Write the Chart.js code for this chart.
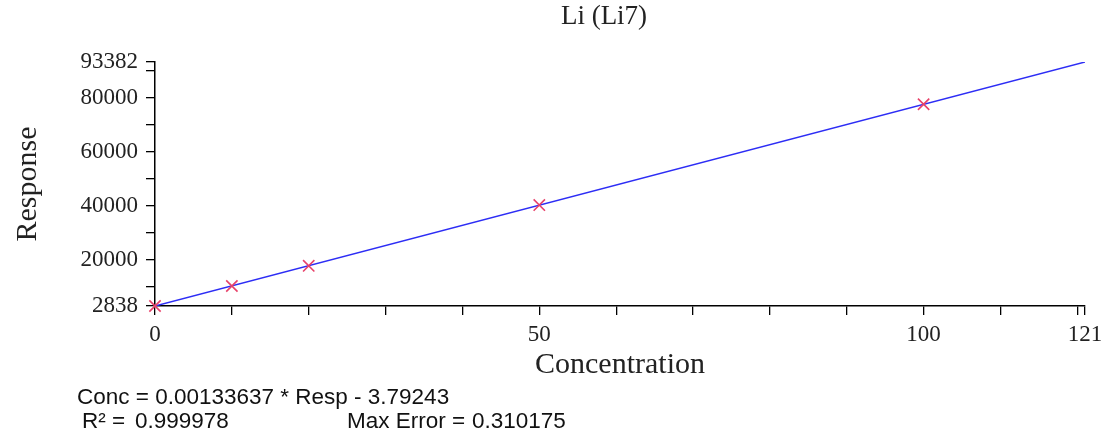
<!DOCTYPE html>
<html>
<head>
<meta charset="utf-8">
<script src="https://cdn.jsdelivr.net/npm/chart.js@4/dist/chart.umd.min.js"></script>
<style>
html,body{margin:0;padding:0;background:#fff;}
#wrap{width:1110px;height:444px;}
</style>
</head>
<body>
<div id="wrap"><canvas id="c" width="1110" height="444"></canvas></div>
<script>
const chartTitle = 'Li (Li7)';
const xTitle = 'Concentration';
const yTitle = 'Response';
const concentrations = [0, 10, 20, 50, 100];
const responses = [2850, 10250, 17750, 40300, 77700];
const fitX = [0, 121];
const fitY = [2838, 93382];
const xTickValues = [0, 10, 20, 30, 40, 50, 60, 70, 80, 90, 100, 110, 120, 121];
const xTickLabels = [0, 50, 100, 121];
const yTickValues = [2838, 10000, 20000, 30000, 40000, 50000, 60000, 70000, 80000, 90000, 93382];
const yTickLabels = [2838, 20000, 40000, 60000, 80000, 93382];
const equationLine = 'Conc = 0.00133637 * Resp - 3.79243';
const r2Label = 'R\u00B2 =';
const r2Value = '0.999978';
const maxErrLabel = 'Max Error =';
const maxErrValue = '0.310175';

const serif = '"Liberation Serif", "DejaVu Serif", serif';
const sans = '"Liberation Sans", Arial, sans-serif';

const textPlugin = {
  id: 'extraText',
  afterDraw(chart) {
    const ctx = chart.ctx;
    ctx.save();
    ctx.fillStyle = '#222';
    ctx.textBaseline = 'middle';
    ctx.textAlign = 'center';
    ctx.font = '27px ' + serif;
    ctx.fillText(chartTitle, 604, 17);
    ctx.fillStyle = '#111';
    ctx.textAlign = 'left';
    ctx.font = '22.5px ' + sans;
    ctx.fillText(equationLine, 77, 398);
    ctx.fillText(r2Label, 82, 422);
    ctx.fillText(r2Value, 135, 422);
    ctx.fillText(maxErrLabel, 347, 422);
    ctx.fillText(maxErrValue, 472, 422);
    ctx.restore();
  }
};

new Chart(document.getElementById('c'), {
  type: 'scatter',
  data: {
    datasets: [
      {
        label: 'fit',
        data: fitX.map((x, i) => ({x: x, y: fitY[i]})),
        showLine: true,
        borderColor: '#2d2df5',
        borderWidth: 1.5,
        pointRadius: 0,
        fill: false,
        order: 2
      },
      {
        label: 'points',
        data: concentrations.map((x, i) => ({x: x, y: responses[i]})),
        pointStyle: 'crossRot',
        pointRadius: 8,
        borderColor: '#e8426a',
        backgroundColor: '#e8426a',
        pointBorderWidth: 1.6,
        showLine: false,
        clip: false,
        order: 1
      }
    ]
  },
  plugins: [textPlugin],
  options: {
    responsive: false,
    animation: false,
    layout: {padding: {top: 62, left: 0, right: 25, bottom: 56}},
    plugins: {
      legend: {display: false},
      tooltip: {enabled: false},
      title: {display: false}
    },
    scales: {
      x: {
        type: 'linear',
        min: 0,
        max: 121,
        afterBuildTicks(scale) { scale.ticks = xTickValues.map(v => ({value: v})); },
        afterFit(scale) { scale.height = 82; },
        ticks: {
          autoSkip: false,
          maxRotation: 0,
          color: '#222',
          font: {family: serif, size: 23},
          padding: 6,
          callback: (v) => xTickLabels.includes(v) ? String(v) : ''
        },
        grid: {drawOnChartArea: false, drawTicks: true, tickLength: 9, color: '#000', lineWidth: 1.3},
        border: {display: true, color: '#000', width: 1.5},
        title: {display: true, text: xTitle, color: '#222', font: {family: serif, size: 30}, padding: {top: 0, bottom: 5}}
      },
      y: {
        type: 'linear',
        min: 2838,
        max: 93382,
        afterBuildTicks(scale) { scale.ticks = yTickValues.map(v => ({value: v})); },
        afterFit(scale) { scale.width = 155; },
        ticks: {
          autoSkip: false,
          color: '#222',
          font: {family: serif, size: 23},
          padding: 8,
          callback: (v) => yTickLabels.includes(v) ? String(v) : ''
        },
        grid: {drawOnChartArea: false, drawTicks: true, tickLength: 9, color: '#000', lineWidth: 1.3},
        border: {display: true, color: '#000', width: 1.5},
        title: {display: true, text: yTitle, color: '#222', font: {family: serif, size: 30}, padding: {top: 10, bottom: 0}}
      }
    }
  }
});
</script>
</body>
</html>
